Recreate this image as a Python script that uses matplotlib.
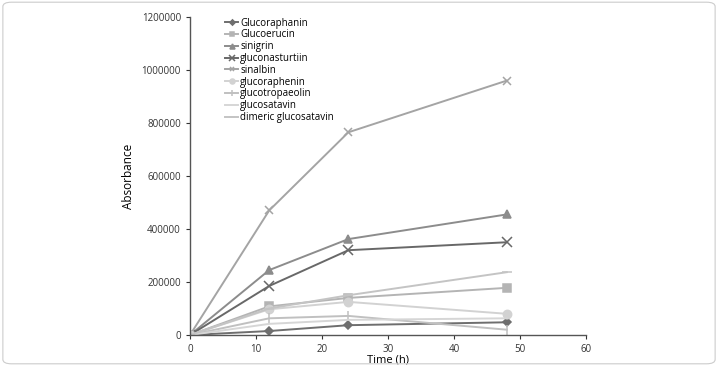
import matplotlib.pyplot as plt
from matplotlib.patches import FancyBboxPatch
from matplotlib.ticker import StrMethodFormatter

plt.rcParams['font.family'] = ['Open Sans', 'DejaVu Sans']

time_h = [0, 12, 24, 48]

glucoraphanin = [0, 15000, 37000, 48000]
glucoerucin = [0, 108000, 140000, 178000]
sinigrin = [0, 245000, 362000, 455000]
gluconasturtiin = [0, 185000, 320000, 350000]
sinalbin = [0, 470000, 765000, 960000]
glucoraphenin = [0, 97000, 125000, 80000]
glucotropaeolin = [0, 63000, 72000, 20000]
glucosatavin = [0, 42000, 57000, 63000]
dimeric_glucosatavin = [0, 100000, 150000, 237000]

SERIES = [
    ("Glucoraphanin", glucoraphanin, "#6e6e6e", "D", 4.5),
    ("Glucoerucin", glucoerucin, "#b4b4b4", "s", 6),
    ("sinigrin", sinigrin, "#8c8c8c", "^", 6),
    ("gluconasturtiin", gluconasturtiin, "#686868", "x", 7),
    ("sinalbin", sinalbin, "#a4a4a4", "x", 5.5),
    ("glucoraphenin", glucoraphenin, "#d2d2d2", "o", 6),
    ("glucotropaeolin", glucotropaeolin, "#c0c0c0", "|", 7),
    ("glucosatavin", glucosatavin, "#d6d6d6", "", 0),
    ("dimeric glucosatavin", dimeric_glucosatavin, "#c4c4c4", "_", 7),
]

fig = plt.figure(figsize=(7.18, 3.66), dpi=100)
ax = fig.add_axes([190 / 718, 1 - 335 / 366, 396 / 718, 318 / 366])

for name, vals, color, marker, ms in SERIES:
    ax.plot(time_h, vals, color=color, lw=1.4, marker=marker, ms=ms,
            mew=1.1, label=name)

ax.set_xlim(0, 60)
ax.set_ylim(0, 1200000)
ax.set_xticks(range(0, 61, 10))
ax.set_yticks(range(0, 1200001, 200000))
ax.yaxis.set_major_formatter(StrMethodFormatter("{x:.0f}"))
ax.tick_params(labelsize=7, colors="#333333", length=3, width=0.8)
for s in ("top", "right"):
    ax.spines[s].set_visible(False)
for s in ("left", "bottom"):
    ax.spines[s].set_color("#555555")
    ax.spines[s].set_linewidth(1)
ax.set_xlabel("Time (h)", fontsize=8)
ax.xaxis.set_label_coords(0.5, -0.06)
ax.set_ylabel("Absorbance", fontsize=8.5, labelpad=5)

ax.legend(loc="upper left", bbox_to_anchor=(0.078, 1.01), frameon=False,
          fontsize=7, handlelength=1.4, labelspacing=0.08,
          handletextpad=0.2, borderaxespad=0, markerscale=0.6)

fig.patches.append(FancyBboxPatch((0.004, 0.006), 0.992, 0.988,
                                  boxstyle="round,pad=0,rounding_size=0.012",
                                  transform=fig.transFigure, fill=False,
                                  edgecolor="#cccccc", lw=0.8))

fig.savefig("out.png", dpi=100)
